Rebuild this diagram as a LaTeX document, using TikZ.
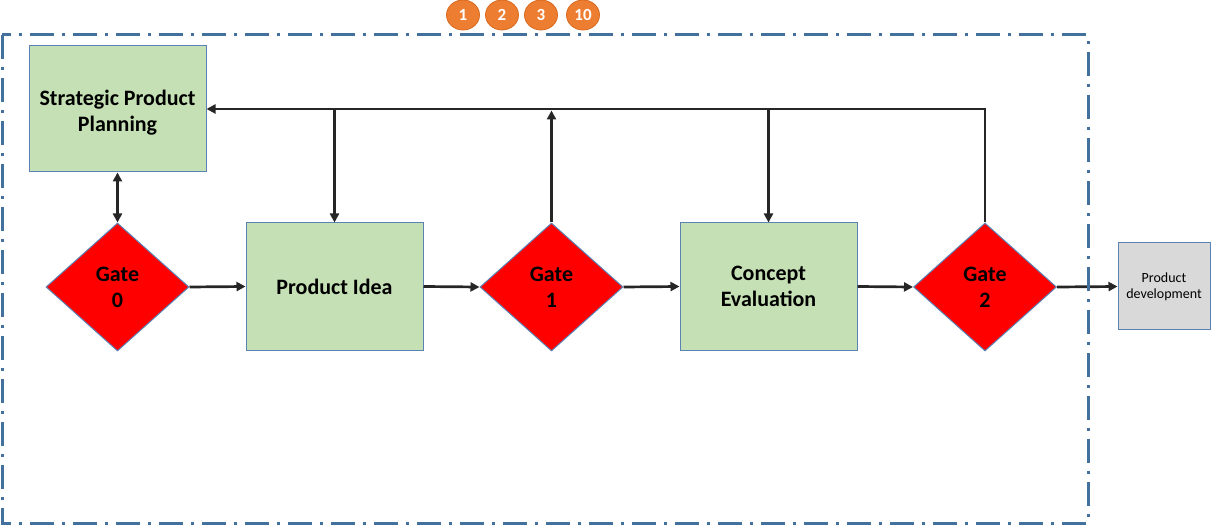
\documentclass[tikz,border=0pt]{standalone}
\usepackage{fontspec}
\setmainfont{Carlito}
\usetikzlibrary{shapes.geometric,arrows.meta}
\definecolor{boxgreen}{HTML}{C5E0B4}
\definecolor{boxgray}{HTML}{D9D9D9}
\definecolor{edgeblue}{HTML}{5B82B5}
\definecolor{frameblue}{HTML}{41719C}
\definecolor{gatered}{HTML}{FF0000}
\definecolor{linedark}{HTML}{262626}
\definecolor{badge}{HTML}{ED7D31}
\definecolor{badgeedge}{HTML}{D9691E}

\begin{document}
\begin{tikzpicture}[x=1pt,y=-1pt,
  stagebox/.style={draw=edgeblue,line width=1pt,fill=boxgreen,inner sep=0pt,
    minimum width=177pt,minimum height=127pt,align=center,
    font=\bfseries\fontsize{22}{26}\selectfont},
  stagetext/.style={inner sep=0pt,align=center,font=\bfseries\fontsize{22}{26}\selectfont},
  gatebox/.style={diamond,draw=edgeblue,line width=1pt,fill=gatered,inner sep=0pt,
    minimum width=143pt,minimum height=128pt,align=center,
    font=\bfseries\fontsize{22}{26}\selectfont},
  outbox/.style={draw=edgeblue,line width=1pt,fill=boxgray,inner sep=0pt,
    minimum width=92pt,minimum height=87pt,align=center,
    font=\fontsize{14}{16}\selectfont},
  flow/.style={draw=linedark,line width=2.7pt,-{Triangle[length=9pt,width=9pt]}},
  flowboth/.style={draw=linedark,line width=2.7pt,{Triangle[length=9pt,width=9pt]}-{Triangle[length=9pt,width=9pt]}},
  frameline/.style={draw=frameblue,line width=3pt,dash pattern=on 24pt off 8pt on 3pt off 8pt},
  numbadge/.style={ellipse,fill=badge,draw=badgeedge,line width=0.8pt,inner sep=0pt,
    minimum width=33pt,minimum height=30pt,text=white,font=\bfseries\fontsize{17}{19}\selectfont}
]
\useasboundingbox (0,0) rectangle (1212,526);

% stages and gates
\node[stagebox,minimum height=126pt] (spp) at (117.5,109) {};
\node[stagetext] (spptext) at ([yshift=-3.5pt]spp.center) {Strategic Product\\Planning};
\node[gatebox] (g0) at (117.5,287) {Gate\\0};
\node[stagebox] (pi) at (334.5,286.5) {Product Idea};
\node[gatebox] (g1) at (551.5,287) {Gate\\1};
\node[stagebox] (ce) at (768.5,286.5) {Concept\\Evaluation};
\node[gatebox] (g2) at (985,287) {Gate\\2};
\node[outbox] (pd) at (1164,286.5) {Product\\development};

% main flow
\draw[flowboth] (spp.south) -- (g0.north);
\draw[flow] (g0.east) -- (pi.west);
\draw[flow] (pi.east) -- (g1.west);
\draw[flow] (g1.east) -- (ce.west);
\draw[flow] (ce.east) -- (g2.west);
\draw[flow] (g2.east) -- (pd.west);

% feedback loop back to planning
\draw[flow] (g2.north) |- (spp.east);
\draw[flow] (pi.north |- spp.east) -- (pi.north);
\draw[flow] (g1.north) -- ([yshift=-1.5pt]g1.north |- spp.east);
\draw[flow] (ce.north |- spp.east) -- (ce.north);

% boundary of the phase
\draw[frameline] (2,35) rectangle (1088,523);

% step badges
\node[numbadge] (b1) at (463,15) {1};
\node[numbadge] (b2) at (502,15) {2};
\node[numbadge] (b3) at (541,15) {3};
\node[numbadge] (b10) at (583,15) {10};
\end{tikzpicture}
\end{document}
